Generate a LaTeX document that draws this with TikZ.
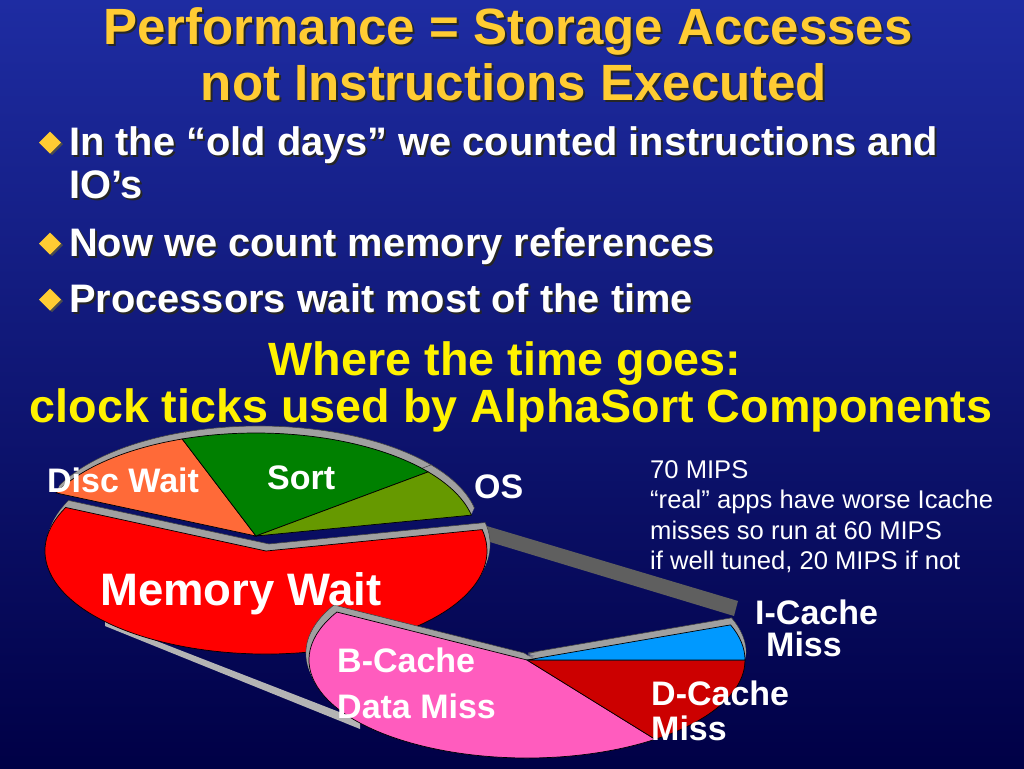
\documentclass[tikz,border=0pt]{standalone}
\usepackage{fontspec}
\setmainfont{Liberation Sans}
\definecolor{titlegold}{RGB}{255,204,51}
\definecolor{bgtop}{RGB}{30,44,162}
\definecolor{bgbot}{RGB}{0,0,70}
\definecolor{discc}{RGB}{255,106,56}
\definecolor{sortc}{RGB}{0,128,0}
\definecolor{osc}{RGB}{102,153,0}
\definecolor{memc}{RGB}{255,0,0}
\definecolor{bcache}{RGB}{255,92,190}
\definecolor{icache}{RGB}{0,153,255}
\definecolor{dcache}{RGB}{204,0,0}
\definecolor{rim}{RGB}{160,160,160}
\definecolor{rimedge}{RGB}{70,70,70}
\definecolor{banddark}{RGB}{95,95,95}
\definecolor{bandlight}{RGB}{180,180,180}
\newcommand\pieslice[6]{(#1,#2) -- +(#5:#3pt and #4pt) arc[start angle=#5,end angle=#6,x radius=#3pt,y radius=#4pt] -- cycle}
\newcommand\extrude[8]{%
  \draw[fill=rim,draw=rimedge,line width=0.6pt,shift={(#7,#8)}] \pieslice{#1}{#2}{#3}{#4}{#5}{#6};
  \foreach \k in {7,6,...,1}{\fill[rim,shift={({#7*\k/8},{#8*\k/8})}] \pieslice{#1}{#2}{#3}{#4}{#5}{#6};}%
}
\begin{document}
\begin{tikzpicture}[x=1pt,y=1pt,
  titletxt/.style={font=\fontsize{51}{55}\selectfont\bfseries, text=titlegold, inner sep=0pt, anchor=base},
  titleshadow/.style={font=\fontsize{51}{55}\selectfont\bfseries, text=black!85, inner sep=0pt, anchor=base},
  bullettxt/.style={font=\fontsize{39.8}{44}\selectfont\bfseries, text=white, inner sep=0pt, anchor=base west},
  bulletshadow/.style={font=\fontsize{39.8}{44}\selectfont\bfseries, text=black!85, inner sep=0pt, anchor=base west},
  subtxt/.style={font=\fontsize{46.7}{50}\selectfont\bfseries, text=yellow, inner sep=0pt, anchor=base},
  pielabel/.style={font=\fontsize{34}{38}\selectfont\bfseries, text=white, inner sep=0pt, anchor=base west},
  bigpielabel/.style={font=\fontsize{45.5}{50}\selectfont\bfseries, text=white, inner sep=0pt, anchor=base west},
  notetxt/.style={font=\fontsize{25.6}{30}\selectfont, text=white, inner sep=0pt, anchor=base west},
  slicefront/.style={draw=black, line width=0.7pt},
  diamondmark/.style={fill=titlegold},
  diamondshadow/.style={fill=black!70}
]
\useasboundingbox (0,-768) rectangle (1024,0);
\shade[top color=bgtop, bottom color=bgbot] (0,-768) rectangle (1024,0);

% title
\node[titleshadow] (t1s) at (510,-47) {Performance = Storage Accesses};
\node[titletxt] (t1) at (508,-45) {Performance = Storage Accesses};
\node[titleshadow] (t2s) at (516,-102) {not Instructions Executed};
\node[titletxt] (t2) at (514,-100) {not Instructions Executed};

% bullets
\foreach \b in {155,256,312}{
  \fill[diamondshadow] (52,-\b+22) -- (63,-\b+11) -- (52,-\b) -- (41,-\b+11) -- cycle;
  \fill[diamondmark] (50,-\b+23.5) -- (61,-\b+12.5) -- (50,-\b+1.5) -- (39,-\b+12.5) -- cycle;
}
\node[bulletshadow] (b1s) at (71,-157) {In the “old days” we counted instructions and};
\node[bullettxt] (b1) at (69,-155) {In the “old days” we counted instructions and};
\node[bulletshadow] (b1bs) at (71,-200) {IO’s};
\node[bullettxt] (b1b) at (69,-198) {IO’s};
\node[bulletshadow] (b2s) at (71,-258) {Now we count memory references};
\node[bullettxt] (b2) at (69,-256) {Now we count memory references};
\node[bulletshadow] (b3s) at (71,-314) {Processors wait most of the time};
\node[bullettxt] (b3) at (69,-312) {Processors wait most of the time};

% subtitle
\node[subtxt] (s1) at (505,-375) {Where the time goes:};
\node[subtxt] (s2) at (511,-422) {clock ticks used by AlphaSort Components};

% connector bands
\fill[bandlight] (105,-621) -- (360,-720) -- (360,-729) -- (105,-626) -- cycle;
\fill[banddark] (480,-524) -- (738,-601) -- (734,-616) -- (480,-539) -- cycle;

% upper pie: top slices
\extrude{256}{-536}{220}{103}{109.6}{155.3}{3}{7}
\extrude{256}{-536}{220}{103}{38.5}{109.6}{3}{7}
\extrude{256}{-536}{220}{103}{11.7}{38.5}{3}{7}
\draw[slicefront, fill=discc] \pieslice{256}{-536}{220}{103}{109.6}{155.3};
\draw[slicefront, fill=sortc] \pieslice{256}{-536}{220}{103}{38.5}{109.6};
\draw[slicefront, fill=osc] \pieslice{256}{-536}{220}{103}{11.7}{38.5};

% memory wait slice
\extrude{266}{-551}{221}{103}{155}{372}{3}{7}
\draw[slicefront, fill=memc] \pieslice{266}{-551}{221}{103}{155}{372};

% secondary pie
\extrude{527}{-660}{218}{98}{150.7}{306}{-3}{7}
\draw[slicefront, fill=bcache] \pieslice{527}{-660}{218}{98}{150.7}{306};
\draw[slicefront, fill=dcache] \pieslice{527}{-660}{218}{98}{306}{360};
\extrude{527}{-660}{218}{98}{0}{21}{1}{7}
\draw[slicefront, fill=icache] \pieslice{527}{-660}{218}{98}{0}{21};

% pie labels
\node[pielabel] (disc) at (47,-492) {Disc Wait};
\node[pielabel] (sort) at (267,-489) {Sort};
\node[pielabel] (os) at (474,-498) {OS};
\node[bigpielabel] (mem) at (100,-605) {Memory Wait};
\node[pielabel] (bc1) at (337,-672) {B-Cache};
\node[pielabel] (bc2) at (337,-718) {Data Miss};
\node[pielabel] (ic1) at (755,-624) {I-Cache};
\node[pielabel] (ic2) at (766,-656) {Miss};
\node[pielabel] (dc1) at (651,-705) {D-Cache};
\node[pielabel] (dc2) at (651,-740) {Miss};

% note
\node[notetxt] (n1) at (650,-478) {70 MIPS};
\node[notetxt] (n2) at (650,-508.5) {“real” apps have worse Icache};
\node[notetxt] (n3) at (650,-539) {misses so run at 60 MIPS};
\node[notetxt] (n4) at (650,-569.5) {if well tuned, 20 MIPS if not};
\end{tikzpicture}
\end{document}
